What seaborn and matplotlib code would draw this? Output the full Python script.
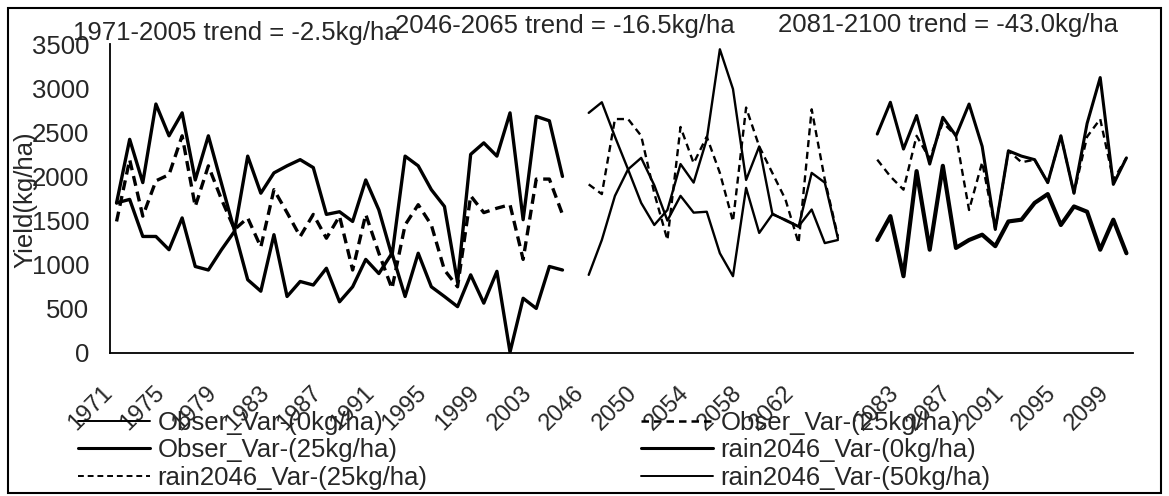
import numpy as np
import pandas as pd
import matplotlib
matplotlib.use('Agg')
import matplotlib.pyplot as plt
from matplotlib.lines import Line2D
from matplotlib.patches import Rectangle
import seaborn as sns

sns.set_style("white")
plt.rcParams['font.family'] = ['Liberation Sans', 'DejaVu Sans']
plt.rcParams['font.size'] = 18.5

# ---- categories (x axis) ----
hist_years = [str(y) for y in range(1971, 2006)]
mid_years = [str(y) for y in range(2046, 2066)]
late_years = [str(y) for y in range(2081, 2101)]
categories = hist_years + [''] + mid_years + ['', ''] + late_years

# ---- yields (kg/ha) ----
hist_0kg = [1700, 1740, 1320, 1320, 1170, 1530, 980, 940, 1170, 1380,
            830, 700, 1340, 640, 810, 770, 960, 580, 750, 1060,
            900, 1130, 640, 1130, 750, 640, 525, 885, 565, 925,
            10, 620, 505, 980, 940]
hist_25kg = [1490, 2190, 1550, 1950, 2020, 2460, 1660, 2120, 1740, 1400,
             1530, 1200, 1850, 1590, 1320, 1570, 1300, 1550, 940, 1570,
             1130, 730, 1450, 1680, 1450, 940, 750, 1780, 1590, 1640,
             1680, 1060, 1970, 1970, 1570]
hist_50kg = [1700, 2420, 1930, 2820, 2460, 2720, 1960, 2460, 1920, 1380,
             2230, 1810, 2040, 2120, 2190, 2100, 1570, 1600, 1490, 1960,
             1620, 1100, 2230, 2120, 1850, 1660, 800, 2250, 2380, 2230,
             2720, 1510, 2680, 2630, 2000]

mid_0kg = [885, 1280, 1780, 2080, 2210, 1900, 1500, 1780, 1590, 1600,
           1130, 870, 1870, 1360, 1570, 1510, 1435, 1625, 1245, 1280]
mid_25kg = [1910, 1800, 2650, 2650, 2460, 1810, 1280, 2560, 2150, 2450,
            2040, 1490, 2780, 2340, 2040, 1740, 1245, 2760, 1965, 1320]
mid_50kg = [2720, 2840, 2450, 2080, 1700, 1450, 1620, 2140, 1930, 2420,
            3440, 2990, 1960, 2340, 1580, 1500, 1430, 2040, 1930, 1300]

late_0kg = [1280, 1550, 870, 2060, 1170, 2120, 1190, 1280, 1340, 1210,
            1490, 1510, 1700, 1800, 1450, 1660, 1600, 1170, 1510, 1130]
late_25kg = [2190, 2000, 1850, 2460, 2200, 2610, 2460, 1620, 2160, 1400,
             2290, 2160, 2190, 1930, 2460, 1810, 2450, 2650, 1960, 2210]
late_50kg = [2480, 2840, 2310, 2690, 2140, 2670, 2460, 2820, 2340, 1400,
             2290, 2230, 2190, 1930, 2460, 1810, 2600, 3120, 1910, 2210]

trend_texts = ['1971-2005 trend = -2.5kg/ha',
               '2046-2065 trend = -16.5kg/ha',
               '2081-2100 trend = -43.0kg/ha']

legend_labels = ['Obser_Var-(0kg/ha)', 'Obser_Var-(25kg/ha)',
                 'Obser_Var-(25kg/ha)', 'rain2046_Var-(0kg/ha)',
                 'rain2046_Var-(25kg/ha)', 'rain2046_Var-(50kg/ha)']

# ---- long table ----
pos = {lab: i for i, lab in enumerate(categories) if lab}
rows = []
series = [
    ('hist_0', hist_years, hist_0kg, '-', 2.4),
    ('hist_25', hist_years, hist_25kg, (0, (3, 1.8)), 2.4),
    ('hist_50', hist_years, hist_50kg, '-', 2.4),
    ('mid_0', mid_years, mid_0kg, '-', 1.7),
    ('mid_25', mid_years, mid_25kg, (0, (3, 2)), 1.7),
    ('mid_50', mid_years, mid_50kg, '-', 1.7),
    ('late_0', late_years, late_0kg, '-', 3.0),
    ('late_25', late_years, late_25kg, (0, (3, 2)), 1.7),
    ('late_50', late_years, late_50kg, '-', 2.2),
]
for name, yrs, vals, _, _ in series:
    for y, v in zip(yrs, vals):
        rows.append({'line': name, 'pos': pos[y], 'yield': v})
df = pd.DataFrame(rows)

W, H = 1169, 496
fig = plt.figure(figsize=(W / 100, H / 100), dpi=100)
ax = fig.add_axes([110 / W, (H - 353) / H, (1133 - 110) / W, (353 - 44) / H])

for name, _, _, ls, lw in series:
    sns.lineplot(data=df[df['line'] == name], x='pos', y='yield', ax=ax,
                 color='black', linestyle=ls, linewidth=lw,
                 estimator=None, sort=False)

ax.set_xlim(-0.5, len(categories) - 0.5)
ax.set_ylim(0, 3500)
ax.set_yticks(np.arange(0, 3501, 500))
major = list(range(0, len(categories), 4))
ax.set_xticks(major)
ax.set_xticklabels([categories[i] for i in major], rotation=45,
                   ha='right', va='top', fontsize=17)
ax.set_xticks(np.arange(-0.5, len(categories), 1), minor=True)
ax.tick_params(axis='x', which='major', length=0, pad=21)
ax.tick_params(axis='x', which='minor', length=5, width=1.2, color='black')
ax.tick_params(axis='y', length=4, width=1.2, pad=11, labelsize=18.5)
ax.set_xlabel('')
ax.set_ylabel('')
for s in ['top', 'right']:
    ax.spines[s].set_visible(False)
for s in ['left', 'bottom']:
    ax.spines[s].set_color('black')
    ax.spines[s].set_linewidth(1.3)

fig.text(25 / W, 1 - 200 / H, 'Yield(kg/ha)', rotation=90,
         ha='center', va='center', fontsize=18.5)

fig.text(73 / W, 1 - 33 / H, trend_texts[0], ha='left', va='center', fontsize=18.5)
fig.text(395 / W, 1 - 26 / H, trend_texts[1], ha='left', va='center', fontsize=18.5)
fig.text(778 / W, 1 - 25 / H, trend_texts[2], ha='left', va='center', fontsize=18.5)

# legend (Excel fills rows first; matplotlib fills columns)
styles = [('-', 1.4), ((0, (3, 2)), 1.8), ('-', 2.2),
          ('-', 2.2), ((0, (3, 2)), 1.4), ('-', 1.4)]
handles = [Line2D([], [], color='black', linestyle=ls, linewidth=lw)
           for ls, lw in styles]
order = [0, 2, 4, 1, 3, 5]
ax.legend([handles[i] for i in order], [legend_labels[i] for i in order],
          ncol=2, loc='upper left', bbox_to_anchor=(78 / W, 1 - 411 / H),
          bbox_transform=fig.transFigure, frameon=False, fontsize=18.5,
          handlelength=2.8, handletextpad=0.3, columnspacing=8.3,
          labelspacing=0.13, borderpad=0, borderaxespad=0)

fig.patches.append(Rectangle((8 / W, 3 / H), 1153 / W, 485 / H,
                             transform=fig.transFigure, fill=False,
                             edgecolor='black', linewidth=1.5))

fig.savefig('out.png', dpi=100)
